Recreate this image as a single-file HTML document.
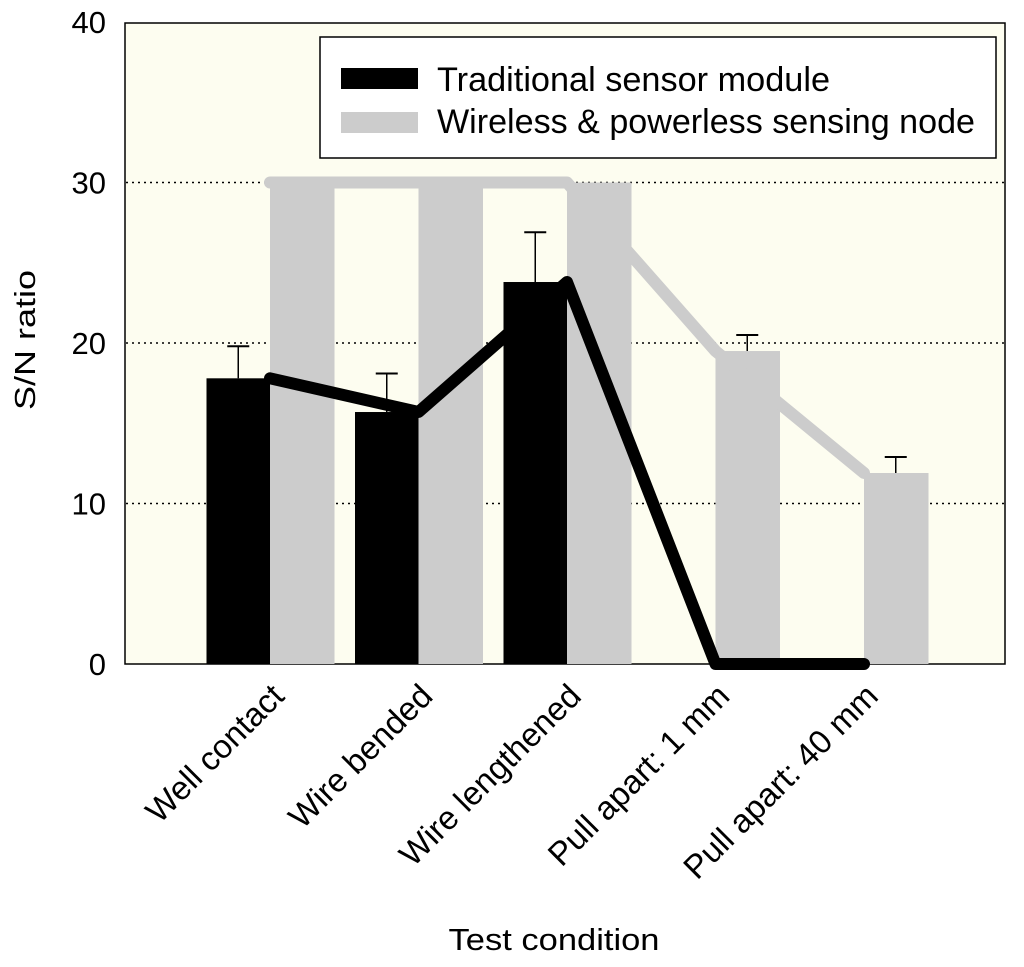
<!DOCTYPE html>
<html><head><meta charset="utf-8"><style>
body{margin:0;background:#fff;}
svg text{font-family:"Liberation Sans",Arial,sans-serif;fill:#000;}
</style></head><body>
<svg width="1024" height="962" xmlns="http://www.w3.org/2000/svg">
<rect x="125" y="23" width="880" height="641" fill="#fdfdf0" stroke="#000" stroke-width="1.5"/>
<g id="grid"></g>
<g id="bars"></g>
<g id="lines"></g>
<g id="axes"></g>
<g>
<rect x="320" y="37" width="676" height="121" fill="#fff" stroke="#000" stroke-width="1.5"/>
<rect x="341" y="68" width="77" height="21" fill="#000"/>
<text x="437" y="91" font-size="34" textLength="393" lengthAdjust="spacingAndGlyphs">Traditional sensor module</text>
<rect x="341" y="112" width="77" height="21" fill="#cccccc"/>
<text x="437" y="133" font-size="34" textLength="538" lengthAdjust="spacingAndGlyphs">Wireless &amp; powerless sensing node</text>
</g>
<text x="554" y="950" font-size="31" text-anchor="middle" textLength="211" lengthAdjust="spacingAndGlyphs">Test condition</text>
<text transform="translate(35,340) rotate(-90)" font-size="29" text-anchor="middle" textLength="140" lengthAdjust="spacingAndGlyphs">S/N ratio</text>
</svg>
<script>
const categories=["Well contact","Wire bended","Wire lengthened","Pull apart: 1 mm","Pull apart: 40 mm"];
const tradValues=[17.8,15.7,23.8,0,0];
const tradErr=[2.0,2.4,3.1,0,0];
const wirelessValues=[30,30,30,19.5,11.9];
const wirelessErr=[0,0,0,1.0,1.0];
const yTicks=[0,10,20,30,40];
const NS="http://www.w3.org/2000/svg";
const y=v=>664-v*16.05;
const xc=i=>270+i*148.5;
const bw=63.5;
function mk(t,a,parent){const e=document.createElementNS(NS,t);for(const k in a)e.setAttribute(k,a[k]);document.getElementById(parent).appendChild(e);return e;}
yTicks.forEach(t=>{
 if(t>0&&t<40){const g=mk('line',{x1:126,x2:1004,y1:y(t),y2:y(t),stroke:'#000','stroke-width':1.5,'stroke-dasharray':'2,4'},'grid');
 
 }
 const tx=mk('text',{x:106,y:y(t)+11,'font-size':31,'text-anchor':'end'},'axes');tx.textContent=t;
 
 
});
categories.forEach((c,i)=>{
 const xb=xc(i);
 if(tradValues[i]>0){
  const e=mk('line',{x1:xb-bw/2,x2:xb-bw/2,y1:y(tradValues[i]),y2:y(tradValues[i]+tradErr[i]),stroke:'#000','stroke-width':1.5},'bars');
  
  
  const e2=mk('line',{x1:xb-bw/2-11,x2:xb-bw/2+11,y1:y(tradValues[i]+tradErr[i]),y2:y(tradValues[i]+tradErr[i]),stroke:'#000','stroke-width':2},'bars');
  
  
 }
 if(wirelessErr[i]>0){
  const e=mk('line',{x1:xb+bw/2,x2:xb+bw/2,y1:y(wirelessValues[i]),y2:y(wirelessValues[i]+wirelessErr[i]),stroke:'#000','stroke-width':1.5},'bars');
  
  
  const e2=mk('line',{x1:xb+bw/2-11,x2:xb+bw/2+11,y1:y(wirelessValues[i]+wirelessErr[i]),y2:y(wirelessValues[i]+wirelessErr[i]),stroke:'#000','stroke-width':2},'bars');
  
  
 }
 const b=mk('rect',{x:xb-bw,y:y(tradValues[i]),width:bw,height:664-y(tradValues[i]),fill:'#000'},'bars');
 
 
 const g=mk('rect',{x:xb,y:y(wirelessValues[i]),width:bw+1,height:664-y(wirelessValues[i]),fill:'#cccccc'},'bars');
 
 
 const t=mk('text',{'font-size':33,'text-anchor':'end',transform:`translate(${xb+16},${698}) rotate(-45)`},'axes');t.textContent=c;
 
 
});
const gp=wirelessValues.map((v,i)=>xc(i)+','+y(v)).join(' ');
const gl=mk('polyline',{points:gp,fill:'none',stroke:'#cccccc','stroke-width':12,'stroke-linejoin':'round','stroke-linecap':'round'},'lines');


const bp=tradValues.map((v,i)=>xc(i)+','+y(v)).join(' ');
const bl=mk('polyline',{points:bp,fill:'none',stroke:'#000','stroke-width':12,'stroke-linejoin':'round','stroke-linecap':'round'},'lines');


</script>
</body></html>
